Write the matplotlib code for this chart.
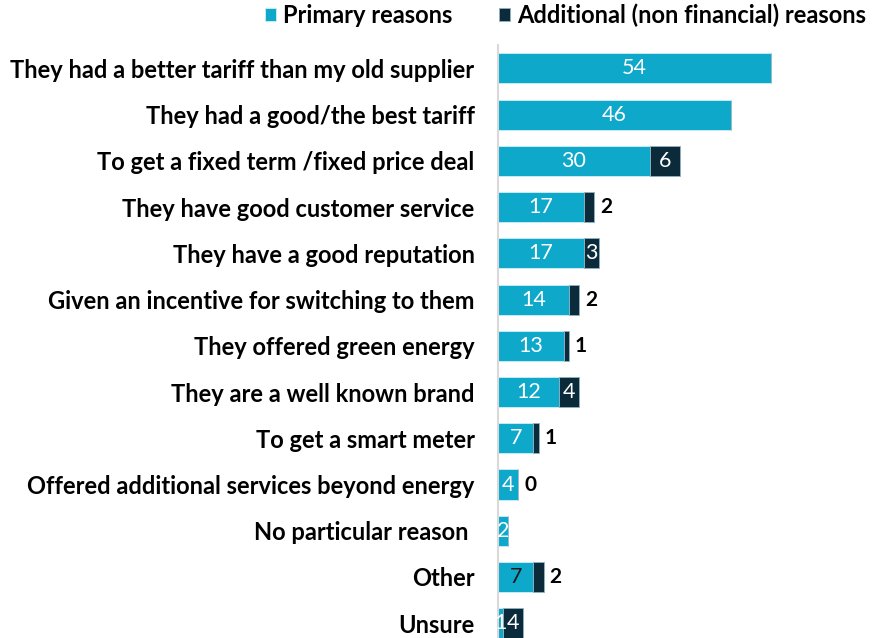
import matplotlib
matplotlib.use('Agg')

import numpy as np
import matplotlib.pyplot as plt

plt.rcParams["font.family"] = ['Lato', 'DejaVu Sans']

reasons = [
    "They had a better tariff than my old supplier",
    "They had a good/the best tariff",
    "To get a fixed term /fixed price deal",
    "They have good customer service",
    "They have a good reputation",
    "Given an incentive for switching to them",
    "They offered green energy",
    "They are a well known brand",
    "To get a smart meter",
    "Offered additional services beyond energy",
    "No particular reason ",
    "Other",
    "Unsure",
]
primary = [54, 46, 30, 17, 17, 14, 13, 12, 7, 4, 2, 7, 1]
additional = [None, None, 6, 2, 3, 2, 1, 4, 1, 0, None, 2, 4]

c_primary = '#0EA8CA'
c_additional = '#0B2A3A'

fig = plt.figure(figsize=(8.77, 6.38), dpi=100)
ax = fig.add_axes([0.568, 0.0, 0.432, 0.929])

y = np.arange(len(reasons))
add_vals = [a if a is not None else 0 for a in additional]

ax.barh(y, primary, height=0.65, color=c_primary, edgecolor='#CFEFF6',
        linewidth=0.6, label='Primary reasons')
ax.barh(y, add_vals, left=primary, height=0.65, color=c_additional,
        edgecolor='#8FB3C0', linewidth=0.6, label='Additional (non financial) reasons')

for i, (p, a) in enumerate(zip(primary, additional)):
    pcol = '#1A1A1A' if reasons[i] == "Other" else 'white'
    ax.text(p / 2, i, str(p), ha='center', va='center', color=pcol, fontsize=15.5)
    if a is None:
        continue
    if a >= 3:
        ax.text(p + a / 2, i, str(a), ha='center', va='center', color='white',
                fontsize=15.5)
    else:
        ax.text(p + a + 1.2, i, str(a), ha='left', va='center', color='black',
                fontsize=15, weight='bold')

ax.set_xlim(0, 75)
ax.set_ylim(12.32, -0.5)
ax.set_yticks(y)
ax.set_yticklabels(reasons, fontsize=17, weight='bold')
ax.tick_params(axis='y', length=0, pad=17)
ax.set_xticks([])
for s in ['top', 'right', 'bottom']:
    ax.spines[s].set_visible(False)
ax.spines['left'].set_color('#D9D9D9')
ax.spines['left'].set_linewidth(1.5)

fig.legend(loc='upper right', bbox_to_anchor=(0.988, 0.995), ncol=2, frameon=False,
           prop={'weight': 'bold', 'size': 17}, handlelength=0.47,
           handleheight=0.47, handletextpad=0.3, columnspacing=2.0,
           borderaxespad=0, borderpad=0)

plt.savefig("out.png", dpi=100)
